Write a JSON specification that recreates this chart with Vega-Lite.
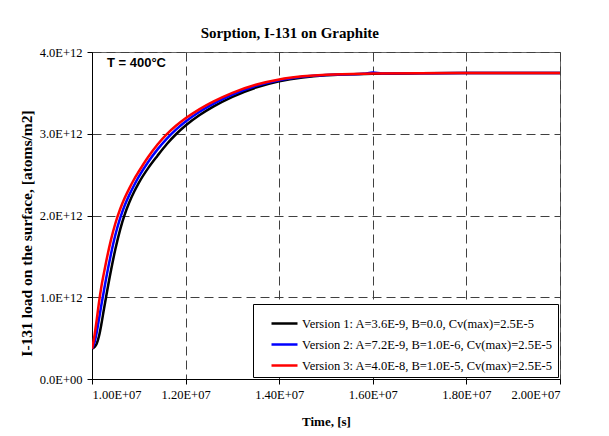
{
  "$schema": "https://vega.github.io/schema/vega-lite/v6.json",
  "width": 468,
  "height": 327,
  "autosize": {"type": "none"},
  "padding": {"left": 92, "top": 52, "right": 49, "bottom": 57},
  "background": "white",
  "title": {
    "text": "Sorption, I-131 on Graphite",
    "font": "Liberation Serif",
    "fontSize": 15,
    "fontWeight": "bold",
    "color": "black",
    "offset": 5,
    "anchor": "middle",
    "frame": "bounds"
  },
  "config": {
    "view": {"stroke": "#666666", "strokeWidth": 1},
    "axis": {
      "labelFont": "Liberation Serif",
      "labelFontSize": 12.5,
      "labelColor": "black",
      "titleFont": "Liberation Serif",
      "titleFontWeight": "bold",
      "titleColor": "black",
      "domainColor": "black",
      "tickColor": "black",
      "tickSize": 5,
      "gridColor": "#404040",
      "gridDash": [9, 5],
      "gridWidth": 1
    },
    "legend": {
      "orient": "bottom-right",
      "offset": 2,
      "fillColor": "white",
      "strokeColor": "black",
      "padding": 5,
      "labelFont": "Liberation Serif",
      "labelFontSize": 12.5,
      "labelColor": "black",
      "labelLimit": 0,
      "labelOffset": 3,
      "symbolType": "stroke",
      "symbolStrokeWidth": 2.5,
      "symbolSize": 676,
      "symbolOffset": 12,
      "rowPadding": -7
    }
  },
  "datasets": {
    "curves": [
      {"s": "1", "t": 1.000e7, "v": 0.37e12},
      {"s": "1", "t": 1.005e7, "v": 0.39e12},
      {"s": "1", "t": 1.010e7, "v": 0.43e12},
      {"s": "1", "t": 1.015e7, "v": 0.525e12},
      {"s": "1", "t": 1.020e7, "v": 0.669e12},
      {"s": "1", "t": 1.025e7, "v": 0.837e12},
      {"s": "1", "t": 1.030e7, "v": 1.001e12},
      {"s": "1", "t": 1.040e7, "v": 1.312e12},
      {"s": "1", "t": 1.050e7, "v": 1.59e12},
      {"s": "1", "t": 1.060e7, "v": 1.825e12},
      {"s": "1", "t": 1.070e7, "v": 2.013e12},
      {"s": "1", "t": 1.080e7, "v": 2.164e12},
      {"s": "1", "t": 1.090e7, "v": 2.29e12},
      {"s": "1", "t": 1.100e7, "v": 2.40e12},
      {"s": "1", "t": 1.120e7, "v": 2.58e12},
      {"s": "1", "t": 1.140e7, "v": 2.732e12},
      {"s": "1", "t": 1.160e7, "v": 2.875e12},
      {"s": "1", "t": 1.180e7, "v": 2.997e12},
      {"s": "1", "t": 1.200e7, "v": 3.101e12},
      {"s": "1", "t": 1.230e7, "v": 3.229e12},
      {"s": "1", "t": 1.260e7, "v": 3.335e12},
      {"s": "1", "t": 1.300e7, "v": 3.452e12},
      {"s": "1", "t": 1.350e7, "v": 3.564e12},
      {"s": "1", "t": 1.400e7, "v": 3.641e12},
      {"s": "1", "t": 1.450e7, "v": 3.689e12},
      {"s": "1", "t": 1.500e7, "v": 3.7155e12},
      {"s": "1", "t": 1.600e7, "v": 3.733e12},
      {"s": "1", "t": 1.700e7, "v": 3.739e12},
      {"s": "1", "t": 1.800e7, "v": 3.742e12},
      {"s": "1", "t": 2.000e7, "v": 3.742e12},
      {"s": "2", "t": 1.000e7, "v": 0.37e12},
      {"s": "2", "t": 1.005e7, "v": 0.44e12},
      {"s": "2", "t": 1.010e7, "v": 0.57e12},
      {"s": "2", "t": 1.015e7, "v": 0.735e12},
      {"s": "2", "t": 1.020e7, "v": 0.905e12},
      {"s": "2", "t": 1.025e7, "v": 1.065e12},
      {"s": "2", "t": 1.030e7, "v": 1.225e12},
      {"s": "2", "t": 1.040e7, "v": 1.515e12},
      {"s": "2", "t": 1.050e7, "v": 1.765e12},
      {"s": "2", "t": 1.060e7, "v": 1.965e12},
      {"s": "2", "t": 1.070e7, "v": 2.125e12},
      {"s": "2", "t": 1.080e7, "v": 2.255e12},
      {"s": "2", "t": 1.090e7, "v": 2.37e12},
      {"s": "2", "t": 1.100e7, "v": 2.475e12},
      {"s": "2", "t": 1.120e7, "v": 2.655e12},
      {"s": "2", "t": 1.140e7, "v": 2.809e12},
      {"s": "2", "t": 1.160e7, "v": 2.941e12},
      {"s": "2", "t": 1.180e7, "v": 3.053e12},
      {"s": "2", "t": 1.200e7, "v": 3.149e12},
      {"s": "2", "t": 1.230e7, "v": 3.269e12},
      {"s": "2", "t": 1.260e7, "v": 3.368e12},
      {"s": "2", "t": 1.300e7, "v": 3.48e12},
      {"s": "2", "t": 1.350e7, "v": 3.585e12},
      {"s": "2", "t": 1.400e7, "v": 3.655e12},
      {"s": "2", "t": 1.450e7, "v": 3.6975e12},
      {"s": "2", "t": 1.500e7, "v": 3.72e12},
      {"s": "2", "t": 1.550e7, "v": 3.728e12},
      {"s": "2", "t": 1.580e7, "v": 3.733e12},
      {"s": "2", "t": 1.600e7, "v": 3.748e12},
      {"s": "2", "t": 1.620e7, "v": 3.738e12},
      {"s": "2", "t": 1.700e7, "v": 3.74e12},
      {"s": "2", "t": 1.800e7, "v": 3.742e12},
      {"s": "2", "t": 2.000e7, "v": 3.742e12},
      {"s": "3", "t": 1.000e7, "v": 0.37e12},
      {"s": "3", "t": 1.005e7, "v": 0.52e12},
      {"s": "3", "t": 1.010e7, "v": 0.72e12},
      {"s": "3", "t": 1.015e7, "v": 0.94e12},
      {"s": "3", "t": 1.020e7, "v": 1.129e12},
      {"s": "3", "t": 1.025e7, "v": 1.283e12},
      {"s": "3", "t": 1.030e7, "v": 1.428e12},
      {"s": "3", "t": 1.040e7, "v": 1.69e12},
      {"s": "3", "t": 1.050e7, "v": 1.905e12},
      {"s": "3", "t": 1.060e7, "v": 2.077e12},
      {"s": "3", "t": 1.070e7, "v": 2.216e12},
      {"s": "3", "t": 1.080e7, "v": 2.3355e12},
      {"s": "3", "t": 1.090e7, "v": 2.4435e12},
      {"s": "3", "t": 1.100e7, "v": 2.538e12},
      {"s": "3", "t": 1.120e7, "v": 2.715e12},
      {"s": "3", "t": 1.140e7, "v": 2.868e12},
      {"s": "3", "t": 1.160e7, "v": 2.995e12},
      {"s": "3", "t": 1.180e7, "v": 3.10e12},
      {"s": "3", "t": 1.200e7, "v": 3.189e12},
      {"s": "3", "t": 1.230e7, "v": 3.302e12},
      {"s": "3", "t": 1.260e7, "v": 3.396e12},
      {"s": "3", "t": 1.300e7, "v": 3.501e12},
      {"s": "3", "t": 1.350e7, "v": 3.599e12},
      {"s": "3", "t": 1.400e7, "v": 3.6635e12},
      {"s": "3", "t": 1.450e7, "v": 3.702e12},
      {"s": "3", "t": 1.500e7, "v": 3.723e12},
      {"s": "3", "t": 1.600e7, "v": 3.736e12},
      {"s": "3", "t": 1.700e7, "v": 3.741e12},
      {"s": "3", "t": 1.800e7, "v": 3.742e12},
      {"s": "3", "t": 2.000e7, "v": 3.742e12}
    ],
    "notes": [
      {"label": "T = 400°C", "t": 1.032e7, "v": 3.86e12}
    ]
  },
  "layer": [
    {
      "data": {"name": "curves"},
      "mark": {"type": "line", "strokeWidth": 2.5, "interpolate": "monotone", "clip": true},
      "encoding": {
        "x": {
          "field": "t",
          "type": "quantitative",
          "scale": {"domain": [10000000, 20000000], "nice": false, "zero": false},
          "axis": {
            "title": "Time, [s]",
            "titleFontSize": 13,
            "values": [10000000, 12000000, 14000000, 16000000, 18000000, 20000000],
            "labelExpr": "replace(upper(format(datum.value, '.2e')), 'E+', 'E+0')",
            "labelPadding": 4,
            "titlePadding": 15,
            "grid": true
          }
        },
        "y": {
          "field": "v",
          "type": "quantitative",
          "scale": {"domain": [0, 4000000000000], "nice": false},
          "axis": {
            "title": "I-131 load on the surface, [atoms/m2]",
            "titleFontSize": 15.5,
            "titleY": 181,
            "values": [0, 1000000000000, 2000000000000, 3000000000000, 4000000000000],
            "labelExpr": "datum.value == 0 ? '0.0E+00' : upper(format(datum.value, '.1e'))",
            "labelPadding": 5,
            "titlePadding": 5,
            "grid": true
          }
        },
        "color": {
          "field": "s",
          "type": "nominal",
          "scale": {"domain": ["1", "2", "3"], "range": ["#000000", "#0000ff", "#ff0000"]},
          "legend": {
            "title": null,
            "labelExpr": "datum.label == '1' ? 'Version 1: A=3.6E-9, B=0.0, Cv(max)=2.5E-5' : datum.label == '2' ? 'Version 2: A=7.2E-9, B=1.0E-6, Cv(max)=2.5E-5' : 'Version 3: A=4.0E-8, B=1.0E-5, Cv(max)=2.5E-5'"
          }
        }
      }
    },
    {
      "data": {"name": "notes"},
      "mark": {"type": "text", "font": "Liberation Sans", "fontSize": 13, "fontWeight": "bold", "color": "black", "align": "left", "baseline": "middle"},
      "encoding": {
        "x": {"field": "t", "type": "quantitative"},
        "y": {"field": "v", "type": "quantitative"},
        "text": {"field": "label"}
      }
    }
  ]
}
